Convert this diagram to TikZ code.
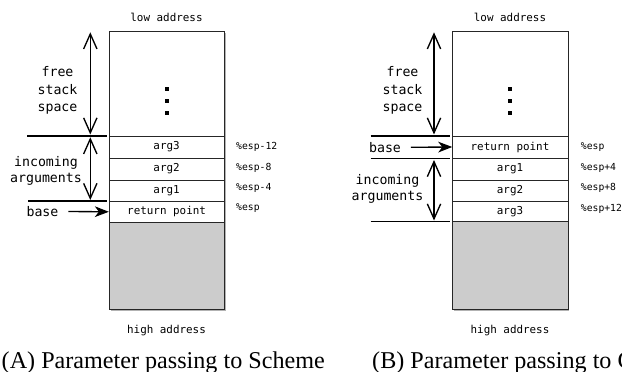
\documentclass[tikz,border=0pt]{standalone}
\usepackage{fontspec}
\setmainfont{Liberation Serif}
\setmonofont{DejaVu Sans Mono}
\usetikzlibrary{arrows.meta}

\tikzset{
  frame/.style={draw=black!85, line width=0.85pt},
  shadow/.style={fill=black!30},
  heavy/.style={line width=1.15pt},
  span/.style={heavy, {Straight Barb[length=4.5mm,width=4mm]}-{Straight Barb[length=4.5mm,width=4mm]}},
  ptr/.style={heavy, -{Stealth[length=4.2mm,width=3.2mm,inset=1.2mm]}},
  lbl/.style={font=\ttfamily\fontsize{11.3}{15}\selectfont, align=center, inner sep=0pt},
  cell/.style={font=\ttfamily\fontsize{9.3}{11}\selectfont, minimum width=3.45cm, minimum height=0.6cm, inner sep=0pt},
  addr/.style={font=\ttfamily\fontsize{9.3}{11}\selectfont, inner sep=0pt},
  ofs/.style={font=\ttfamily\fontsize{8.3}{10}\selectfont, anchor=west, inner sep=0pt},
  figcap/.style={font=\fontsize{20.6}{24}\selectfont, inner sep=0pt},
}

\begin{document}
\begin{tikzpicture}[x=0.03cm, y=-0.03cm]
  \useasboundingbox (0,0) rectangle (622,372);
  \clip (0,0) rectangle (622,372);

  % (A) Scheme
  \begin{scope}
    \fill[shadow] (110.5,33.5) rectangle (225.8,310.8);
    \draw[frame, fill=white] (109,32) rectangle (224.3,309);
    \draw[frame, fill=gray!40] (109,222) rectangle (224.3,309);
    \foreach \y in {136,158,180,201.5}
      \draw[frame] (109,\y) -- (224.3,\y);
    \foreach \y in {89.3,100.7,112.7}
      \fill (164.7,\y-2) rectangle +(4,4);
    \node[addr] (lowA) at (166.5,17) {low address};
    \node[addr] (highA) at (166.5,331) {high address};
    \node[cell] (a3A) at (166.6,147) {arg3};
    \node[cell] (a2A) at (166.6,169) {arg2};
    \node[cell] (a1A) at (166.6,190.8) {arg1};
    \node[cell] (retA) at (166.6,211.8) {return point};
    \node[ofs] (o3A) at (236,147) {\%esp-12};
    \node[ofs] (o2A) at (236,167.5) {\%esp-8};
    \node[ofs] (o1A) at (236,188) {\%esp-4};
    \node[ofs] (o0A) at (236,208.5) {\%esp};
    \draw[heavy] (27,136) -- (106.5,136);
    \draw[heavy] (28,201) -- (106.5,201);
    \coordinate (fTopA) at (90.3,32.3);
    \coordinate (fBotA) at (90.3,134.5);
    \coordinate (iTopA) at (90.3,137.3);
    \coordinate (iBotA) at (90.3,200);
    \draw[span] (fTopA) -- (fBotA);
    \draw[span] (iTopA) -- (iBotA);
    \node[lbl, font=\ttfamily\fontsize{11.3}{15.2}\selectfont] (freeA) at (57.5,90.5) {free\\stack\\space};
    \node[lbl, font=\ttfamily\fontsize{11.3}{13.8}\selectfont] (inA) at (46,171) {incoming\\arguments};
    \node[lbl] (baseA) at (42.5,211.5) {base};
    \draw[ptr] ([xshift=2.9mm]baseA.east) -- (retA.west);
  \end{scope}

  % (B) C
  \begin{scope}[shift={(343,0)}]
    \fill[shadow] (110.5,33.5) rectangle (225.8,310.8);
    \draw[frame, fill=white] (109,32) rectangle (225,309);
    \draw[frame, fill=gray!40] (109,221.7) rectangle (225,309);
    \foreach \y in {136,158.3,180,201.5}
      \draw[frame] (109,\y) -- (225,\y);
    \foreach \y in {89.3,100.7,112.7}
      \fill (165,\y-2) rectangle +(4,4);
    \node[addr] (lowB) at (167,17) {low address};
    \node[addr] (highB) at (167,331) {high address};
    \node[cell] (retB) at (167,147) {return point};
    \node[cell] (a1B) at (167,169) {arg1};
    \node[cell] (a2B) at (167,190.8) {arg2};
    \node[cell] (a3B) at (167,211.8) {arg3};
    \node[ofs] (o0B) at (237.7,147) {\%esp};
    \node[ofs] (o1B) at (237.7,167.5) {\%esp+4};
    \node[ofs] (o2B) at (237.7,188) {\%esp+8};
    \node[ofs] (o3B) at (237.7,208.5) {\%esp+12};
    \draw[heavy] (27.7,136) -- (107,136);
    \draw[heavy] (27.7,158.3) -- (107,158.3);
    \draw[heavy] (27.7,221.7) -- (107,221.7);
    \coordinate (fTopB) at (91,32.3);
    \coordinate (fBotB) at (91,134.5);
    \coordinate (iTopB) at (91,160);
    \coordinate (iBotB) at (91,220.5);
    \draw[span] (fTopB) -- (fBotB);
    \draw[span] (iTopB) -- (iBotB);
    \node[lbl, font=\ttfamily\fontsize{11.3}{15.2}\selectfont] (freeB) at (59.5,90.5) {free\\stack\\space};
    \node[lbl, font=\ttfamily\fontsize{11.3}{13.8}\selectfont] (inB) at (44.5,189) {incoming\\arguments};
    \node[lbl] (baseB) at (42,147.3) {base};
    \draw[ptr] ([xshift=2.9mm]baseB.east) -- (retB.west);
  \end{scope}

  \node[figcap, anchor=base east] (capA) at (325,368) {(A) Parameter passing to Scheme};
  \node[figcap, anchor=base west] (capB) at (372,368) {(B) Parameter passing to C};
\end{tikzpicture}
\end{document}
